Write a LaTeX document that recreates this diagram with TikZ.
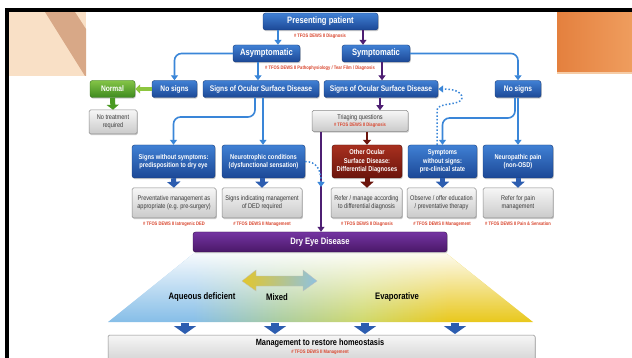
\documentclass[tikz,border=0pt]{standalone}
\usepackage{fontspec}
\setmainfont{Liberation Sans}
\newfontfamily\cond{Liberation Sans}[FakeStretch=0.82]
\usetikzlibrary{arrows.meta,shadows,fadings}

\definecolor{bluetop}{HTML}{4080D4}
\definecolor{bluebot}{HTML}{1C4896}
\definecolor{blueedge}{HTML}{163A78}
\definecolor{connblue}{HTML}{3A86D8}
\definecolor{blkblue}{HTML}{2C5DB0}
\definecolor{purp}{HTML}{4E1F73}
\definecolor{purptop}{HTML}{7434A2}
\definecolor{purpbot}{HTML}{4A1868}
\definecolor{redtop}{HTML}{A8301F}
\definecolor{redbot}{HTML}{6B140C}
\definecolor{greentop}{HTML}{84C447}
\definecolor{greenbot}{HTML}{3E8A1F}
\definecolor{greenedge}{HTML}{2F6E16}
\definecolor{glight}{HTML}{8DC63F}
\definecolor{gdark}{HTML}{4A9A22}
\definecolor{tagred}{HTML}{D9462E}
\definecolor{graytext}{HTML}{3A3A3A}
\definecolor{grayA}{HTML}{F6F6F6}
\definecolor{grayB}{HTML}{CACACA}
\definecolor{grayedge}{HTML}{8A8A8A}
\definecolor{peach}{HTML}{F9E0C6}
\definecolor{stripe}{HTML}{D8A887}
\definecolor{orangeL}{HTML}{E4803E}
\definecolor{orangeR}{HTML}{EF9D5E}
\definecolor{orangeline}{HTML}{F6CCA6}
\definecolor{trapblue}{HTML}{86BEE8}
\definecolor{trapgreen}{HTML}{A9CCA0}
\definecolor{traplime}{HTML}{CFD86A}
\definecolor{trapyellow}{HTML}{E9C81C}
\definecolor{mixyellow}{HTML}{E2C62C}
\definecolor{mixblue}{HTML}{8FC2E0}

\pgfdeclarehorizontalshading{trapshade}{100bp}{color(0bp)=(trapblue); color(25bp)=(trapblue); color(35bp)=(trapblue); color(45bp)=(trapgreen); color(55bp)=(traplime); color(65bp)=(trapyellow); color(75bp)=(trapyellow); color(100bp)=(trapyellow)}
\tikzfading[name=topwhite, top color=transparent!0, bottom color=transparent!100]

\tikzset{
  nbox/.style={rounded corners=2.5pt, inner sep=1pt, align=center,
    drop shadow={opacity=0.4, shadow xshift=0.8pt, shadow yshift=-1.2pt}},
  bluebox/.style={nbox, top color=bluetop, bottom color=bluebot, draw=blueedge, line width=0.4pt, text=white},
  greenbox/.style={nbox, top color=greentop, bottom color=greenbot, draw=greenedge, line width=0.4pt, text=white},
  redbox/.style={nbox, top color=redtop, bottom color=redbot, draw=redbot!70!black, line width=0.4pt, text=white},
  purplebox/.style={nbox, top color=purptop, bottom color=purpbot, draw=purpbot!70!black, line width=0.4pt, text=white},
  graybox/.style={nbox, rounded corners=1.5pt, top color=grayA, bottom color=grayB, draw=grayedge, line width=0.5pt, text=graytext},
  sz/.style 2 args={minimum width=#1pt, minimum height=#2pt},
  fbig/.style={font=\cond\bfseries\fontsize{9.3}{10}\selectfont},
  fmid/.style={font=\cond\bfseries\fontsize{8.1}{9}\selectfont},
  fsm/.style={font=\cond\bfseries\fontsize{7}{8.5}\selectfont},
  fgray/.style={font=\cond\fontsize{6.8}{8.3}\selectfont},
  flab/.style={font=\cond\bfseries\fontsize{9.4}{10}\selectfont, inner sep=0pt},
  tagtxt/.style={text=tagred, inner sep=0pt, font=\cond\bfseries\fontsize{5}{6}\selectfont},
  conn/.style={draw=connblue, line width=1.6pt, rounded corners=7pt, -{Triangle[width=7pt,length=5pt]}},
  pconn/.style={draw=purp, line width=1.6pt, -{Triangle[width=7pt,length=5pt]}},
  rconn/.style={draw=redbot, line width=1.6pt, -{Triangle[width=8pt,length=5pt]}},
  dconn/.style={draw=connblue, line width=1.5pt, dotted, -{Triangle[width=7pt,length=5pt]}},
  blk/.style={line width=5pt, -{Triangle[width=13pt,length=6pt]}},
}

\begin{document}
\begin{tikzpicture}[x=1pt,y=-1pt]
\useasboundingbox (0,0) rectangle (632,358);
\begin{scope}
\clip (0,0) rectangle (632,358);
\fill[white] (0,0) rectangle (632,358);

% decorations
\fill[peach] (9,12) rectangle (86,76);
\fill[stripe] (45,12) -- (75,12) -- (86,29) -- (86,76) -- (85,76) -- cycle;
\shade[left color=orangeL, right color=orangeR] (557,12) rectangle (632,72);
\fill[orangeline] (557,72.5) rectangle (632,74.5);
\fill[black] (5,8.5) rectangle (632,12);
\fill[black] (5,8.5) rectangle (9,358);

% x / y helper coordinates
\coordinate (x278) at (278,0);
\coordinate (x363) at (363,0);
\coordinate (x258) at (258,0);
\coordinate (x382) at (382,0);
\coordinate (x255) at (255,0);
\coordinate (x263) at (263,0);
\coordinate (x380) at (380,0);
\coordinate (x321) at (321,0);
\coordinate (x515) at (515,0);
\coordinate (x437) at (437,0);
\coordinate (y117) at (0,117);
\coordinate (y118) at (0,118);
\coordinate (y110) at (0,110);
\coordinate (y187) at (0,187);

% trapezoid
\shade[shading=trapshade] (193,254) -- (447,254) -- (533,322) -- (108,322) -- cycle;
\fill[white, path fading=topwhite, fill opacity=0.92] (193,254) -- (447,254) -- (533,322) -- (108,322) -- cycle;

% nodes
\node[bluebox,fbig,sz={115}{17}] (pp) at (320.5,21.5) {Presenting patient};
\node[tagtxt] (tg0) at (320,36) {\# TFOS DEWS II Diagnosis};
\node[bluebox,fbig,sz={67}{17}] (asym) at (266.5,53.5) {Asymptomatic};
\node[bluebox,fbig,sz={68}{17}] (sym) at (376,53.5) {Symptomatic};
\node[tagtxt] (tg1) at (320,68) {\# TFOS DEWS II Pathophysiology / Tear Film / Diagnosis};

\node[greenbox,fmid,sz={45}{17}] (normal) at (112.5,89) {Normal};
\node[bluebox,fmid,sz={45}{17}] (nosL) at (174.5,89) {No signs};
\node[bluebox,fmid,sz={116}{17}] (osdL) at (261,89) {Signs of Ocular Surface Disease};
\node[bluebox,fmid,sz={114}{17}] (osdR) at (381,89) {Signs of Ocular Surface Disease};
\node[bluebox,fmid,sz={46}{17}] (nosR) at (518,89) {No signs};

\node[graybox,fgray,sz={48}{24}] (notreat) at (113,122) {No treatment\\required};
\node[graybox,fgray,sz={96}{21}] (triage) at (360,121) {Triaging questions\\[-1.5pt]{\color{tagred}\bfseries\fontsize{5}{6}\selectfont\# TFOS DEWS II Diagnosis}};

\node[bluebox,fsm,sz={83}{33}] (sws) at (173.5,161.5) {Signs without symptoms:\\predisposition to dry eye};
\node[bluebox,fsm,sz={83}{33}] (neuro) at (263.5,161.5) {Neurotrophic conditions\\(dysfunctional sensation)};
\node[redbox,fsm,sz={70}{33}] (other) at (367,161.5) {Other Ocular\\Surface Disease:\\Differential Diagnoses};
\node[bluebox,fsm,sz={69}{33}] (ssigns) at (442.5,161.5) {Symptoms\\without signs:\\pre-clinical state};
\node[bluebox,fsm,sz={70}{33}] (neuropath) at (518,161.5) {Neuropathic pain\\(non-OSD)};

\node[graybox,fgray,sz={84}{30}] (prev) at (174,203) {Preventative management as\\appropriate (e.g. pre-surgery)};
\node[graybox,fgray,sz={80}{30}] (sigm) at (262,203) {Signs indicating management\\of DED required};
\node[graybox,fgray,sz={71}{30}] (refer) at (366.5,203) {Refer / manage according\\to differential diagnosis};
\node[graybox,fgray,sz={69}{30}] (observe) at (441.5,203) {Observe / offer education\\/ preventative therapy};
\node[graybox,fgray,sz={70}{30}] (pain) at (518,203) {Refer for pain\\management};

\node[tagtxt] (tg2) at (174,224) {\# TFOS DEWS II Iatrogenic DED};
\node[tagtxt] (tg3) at (262,224) {\# TFOS DEWS II Management};
\node[tagtxt] (tg4) at (367,224) {\# TFOS DEWS II Diagnosis};
\node[tagtxt] (tg5) at (442,224) {\# TFOS DEWS II Management};
\node[tagtxt] (tg6) at (518,224) {\# TFOS DEWS II Pain \& Sensation};

\node[purplebox,fbig,sz={254}{20}] (ded) at (320,242) {Dry Eye Disease};

% mixed double arrow
\shade[left color=mixyellow, right color=mixblue, draw=gray!50, line width=0.3pt]
  (242,281) -- (256,270) -- (256,276) -- (303,276) -- (303,270) -- (317,281)
  -- (303,291) -- (303,286) -- (256,286) -- (256,291) -- cycle;
\node[flab] (aq) at (202,297) {Aqueous deficient};
\node[flab] (mix) at (277,297) {Mixed};
\node[flab] (evap) at (397,297) {Evaporative};

% bottom block arrows
\foreach \xx in {185,275,365,455}
  \draw[draw=blkblue, line width=8pt, -{Triangle[width=22pt,length=8pt]}] (\xx,322.5) -- (\xx,334);

\node[graybox,sz={427}{34}] (mgmt) at (321.5,352) {};
\node[font=\cond\bfseries\fontsize{9}{10}\selectfont, inner sep=0pt] (mtext) at (320,343) {Management to restore homeostasis};
\node[tagtxt] (mtag) at (320,352.5) {\# TFOS DEWS II Management};

% connectors
\draw[conn] (pp.south -| x278) -- (asym.north -| x278);
\draw[pconn] (pp.south -| x363) -- (sym.north -| x363);
\draw[conn] (asym.west) -| (nosL.north);
\draw[conn] (asym.south -| x258) -- (osdL.north -| x258);
\draw[pconn] (sym.south -| x382) -- (osdR.north -| x382);
\draw[conn] (sym.east) -| (nosR.north);
\draw[draw=glight, line width=3.5pt, -{Triangle[width=9pt,length=5pt]}] (nosL.west) -- (normal.east);
\draw[draw=gdark, line width=5pt, -{Triangle[width=12pt,length=5pt]}] (normal.south) -- (notreat.north);
\draw[conn] (osdL.south -| x255) -- (x255 |- y117) -- (sws.north |- y117) -- (sws.north);
\draw[conn] (osdL.south -| x263) -- (neuro.north -| x263);
\draw[pconn] (osdR.south -| x380) -- (triage.north -| x380);
\draw[rconn] (triage.south -| other.north) -- (other.north);
\draw[pconn] (triage.south -| x321) -- (ded.north -| x321);
\draw[conn] (nosR.south -| x515) -- (x515 |- y118) -- (ssigns.north |- y118) -- (ssigns.north);
\draw[conn] (nosR.south) -- (neuropath.north);
\draw[dconn] (ssigns.north -| x437) -- (x437 |- y110) .. controls (437,102) and (462,106) .. (462,98) .. controls (462,91) and (452,89) .. (osdR.east);
\draw[dconn] (neuro.east) .. controls (316,162) and (321,168) .. (x321 |- y187);

% block arrows row 3 -> row 4
\draw[blk, draw=blkblue] (sws.south) -- (prev.north);
\draw[blk, draw=blkblue] (neuro.south -| sigm.north) -- (sigm.north);
\draw[blk, draw=redbot] (other.south) -- (refer.north -| other.south);
\draw[blk, draw=blkblue] (ssigns.south) -- (observe.north -| ssigns.south);
\draw[blk, draw=blkblue] (neuropath.south) -- (pain.north);
\end{scope}
\end{tikzpicture}
\end{document}
